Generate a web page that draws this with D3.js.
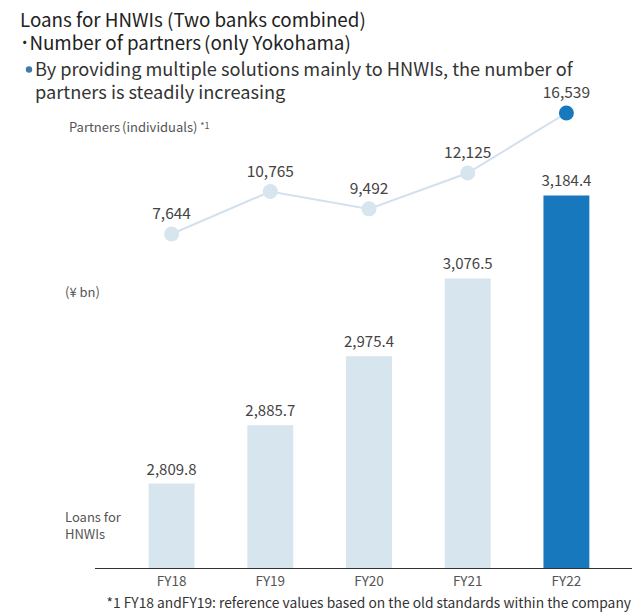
<!DOCTYPE html>
<html>
<head>
<meta charset="utf-8">
<script src="https://cdn.jsdelivr.net/npm/d3@7/dist/d3.min.js"></script>
<style>
  body { margin: 0; background: #fff; }
  text { font-family: "Noto Sans CJK JP", "Noto Sans", sans-serif; }
</style>
</head>
<body>
<svg id="chart" width="632" height="615"></svg>
<script>
const years = ["FY18", "FY19", "FY20", "FY21", "FY22"];
const loans = [2809.8, 2885.7, 2975.4, 3076.5, 3184.4];
const partners = [7644, 10765, 9492, 12125, 16539];
const loanLabels = ["2,809.8", "2,885.7", "2,975.4", "3,076.5", "3,184.4"];
const partnerLabels = ["7,644", "10,765", "9,492", "12,125", "16,539"];

const svg = d3.select("#chart");
const dark = "#1778bd", light = "#d7e5ee", lineCol = "#d3e0ee";

// titles
svg.append("text").attr("x", 20).attr("y", 27).attr("font-size", 18.8).attr("fill", "#222")
  .text("Loans for HNWIs (Two banks combined)");
const t2 = svg.append("text").attr("x", 20).attr("y", 50).attr("font-size", 18.8).attr("fill", "#222");
t2.append("tspan").text("･Number of partners");
t2.append("tspan").attr("dx", 3).text("(only Yokohama)");
svg.append("circle").attr("cx", 29).attr("cy", 69.5).attr("r", 3.2).attr("fill", "#3c7ea6");
svg.append("text").attr("x", 35).attr("y", 76).attr("font-size", 18.2).attr("fill", "#333")
  .text("By providing multiple solutions mainly to HNWIs, the number of");
svg.append("text").attr("x", 35).attr("y", 99).attr("font-size", 18.2).attr("fill", "#333")
  .text("partners is steadily increasing");

// scales
const x = d3.scaleBand().domain(years).range([122, 616]).paddingInner(0.535).paddingOuter(0.27);
const yBar = d3.scaleLinear().domain([2700, 3200]).range([568, 183.5]);
const yLine = d3.scaleLinear().domain([0, 16539]).range([338, 113]);

// bars
svg.selectAll("rect.bar").data(years).join("rect")
  .attr("class", "bar")
  .attr("x", d => x(d))
  .attr("width", x.bandwidth())
  .attr("y", (d, i) => yBar(loans[i]))
  .attr("height", (d, i) => yBar(2700) - yBar(loans[i]))
  .attr("fill", (d, i) => i === years.length - 1 ? dark : light);

svg.selectAll("text.barlab").data(years).join("text")
  .attr("x", d => x(d) + x.bandwidth() / 2)
  .attr("y", (d, i) => yBar(loans[i]) - 9)
  .attr("text-anchor", "middle").attr("font-size", 15).attr("fill", "#444")
  .text((d, i) => loanLabels[i]);

// axis
const axis = d3.axisBottom(x).tickSize(0).tickPadding(8);
const ag = svg.append("g").attr("transform", "translate(0,568)").call(axis);
ag.select(".domain").remove();
ag.selectAll("text").attr("font-size", 13.5).attr("fill", "#555")
  .attr("font-family", "'Noto Sans CJK JP', sans-serif");
svg.append("line").attr("x1", 95).attr("x2", 632).attr("y1", 568.5).attr("y2", 568.5)
  .attr("stroke", "#333").attr("stroke-width", 1.2);

// partners line
const cx = d => x(d) + x.bandwidth() / 2;
svg.append("path")
  .datum(years)
  .attr("d", d3.line().x(cx).y((d, i) => yLine(partners[i])))
  .attr("fill", "none").attr("stroke", lineCol).attr("stroke-width", 2);
svg.selectAll("circle.pt").data(years).join("circle")
  .attr("cx", cx).attr("cy", (d, i) => yLine(partners[i])).attr("r", 7.5)
  .attr("fill", (d, i) => i === years.length - 1 ? dark : light);
svg.selectAll("text.ptlab").data(years).join("text")
  .attr("x", cx).attr("y", (d, i) => yLine(partners[i]) - 15)
  .attr("text-anchor", "middle").attr("font-size", 15.5).attr("fill", "#444")
  .text((d, i) => partnerLabels[i]);

// side labels
const p = svg.append("text").attr("x", 69).attr("y", 132).attr("font-size", 13).attr("fill", "#555");
p.append("tspan").text("Partners");
p.append("tspan").attr("dx", 2).text("(individuals) ");
p.append("tspan").attr("font-size", 9).attr("dy", -3).text("*1");
svg.append("text").attr("x", 65).attr("y", 297).attr("font-size", 13).attr("fill", "#555").text("(¥ bn)");
svg.append("text").attr("x", 65).attr("y", 522).attr("font-size", 13).attr("fill", "#555").text("Loans for");
svg.append("text").attr("x", 65).attr("y", 539).attr("font-size", 13).attr("fill", "#555").text("HNWIs");

// footnote
svg.append("text").attr("x", 631).attr("y", 608).attr("text-anchor", "end").attr("font-size", 13.8)
  .attr("fill", "#333").text("*1 FY18 andFY19: reference values based on the old standards within the company");
</script>
</body>
</html>
